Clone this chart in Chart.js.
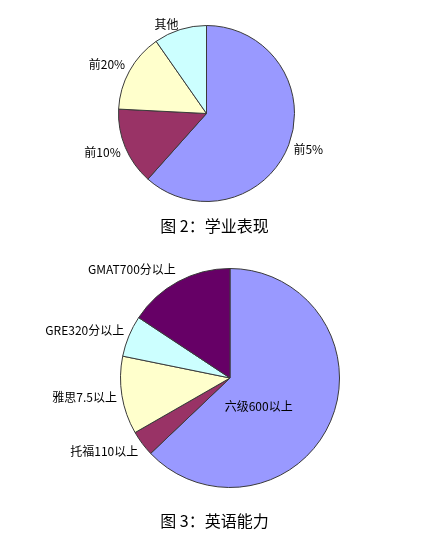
<!DOCTYPE html>
<html>
<head>
<meta charset="utf-8">
<script src="https://cdn.jsdelivr.net/npm/chart.js@4/dist/chart.umd.min.js"></script>
<style>
html,body{margin:0;padding:0;background:#fff;width:437px;height:543px;overflow:hidden;}
.wrap{position:absolute;left:0;}
.cap{position:absolute;left:0;width:429px;text-align:center;font-family:"Noto Sans CJK SC",sans-serif;font-size:16px;color:#000;line-height:20px;}
</style>
</head>
<body>
<div class="wrap" style="top:0"><canvas id="c1" width="437" height="240"></canvas></div>
<div class="wrap" style="top:245px"><canvas id="c2" width="437" height="298"></canvas></div>
<div class="cap" style="top:215px">图 2：学业表现</div>
<div class="cap" style="top:510px">图 3：英语能力</div>
<script>
// Chart 1: 学业表现
const academicLabels = ['前5%', '前10%', '前20%', '其他'];
const academicValues = [61.6, 14.2, 14.5, 9.7];
const academicColors = ['#9999FF', '#993366', '#FFFFCC', '#CCFFFF'];

// Chart 2: 英语能力
const englishLabels = ['六级600以上', '托福110以上', '雅思7.5以上', 'GRE320分以上', 'GMAT700分以上'];
const englishValues = [62.9, 3.8, 11.5, 6.1, 15.7];
const englishColors = ['#9999FF', '#993366', '#FFFFCC', '#CCFFFF', '#660066'];

const FONT = '"Noto Sans CJK SC", sans-serif';

const pieLabels = {
  id: 'pieLabels',
  afterDatasetsDraw(chart, args, opts) {
    const ctx = chart.ctx;
    const meta = chart.getDatasetMeta(0);
    const labels = chart.data.labels;
    const area = chart.chartArea;
    ctx.save();
    ctx.font = '12px ' + FONT;
    ctx.fillStyle = '#000';
    ctx.textBaseline = 'middle';
    meta.data.forEach((arc, i) => {
      const p = arc.getProps(['x', 'y', 'startAngle', 'endAngle', 'outerRadius'], true);
      const mid = (p.startAngle + p.endAngle) / 2;
      if (opts.inside && opts.inside.index === i) {
        const a = opts.inside.angle;
        const rr = p.outerRadius * opts.inside.radius;
        ctx.textAlign = 'center';
        ctx.fillText(labels[i], p.x + rr * Math.cos(a), p.y + rr * Math.sin(a));
        return;
      }
      const r = p.outerRadius + 5;
      let x = p.x + r * Math.cos(mid);
      let y = p.y + r * Math.sin(mid) + 9 * Math.sin(mid);
      y = Math.max(y, area.top - 1);
      ctx.textAlign = Math.cos(mid) < 0 ? 'right' : 'left';
      ctx.fillText(labels[i], x, y);
    });
    ctx.restore();
  }
};

function makePie(id, labels, values, colors, padding, inside) {
  return new Chart(document.getElementById(id), {
    type: 'pie',
    data: {
      labels: labels,
      datasets: [{
        data: values,
        backgroundColor: colors,
        borderColor: '#3a3a3a',
        borderWidth: 1,
        hoverOffset: 0
      }]
    },
    options: {
      responsive: false,
      animation: false,
      devicePixelRatio: 1,
      layout: { padding: padding },
      plugins: {
        legend: { display: false },
        tooltip: { enabled: false },
        pieLabels: { inside: inside }
      }
    },
    plugins: [pieLabels]
  });
}

makePie('c1', academicLabels, academicValues, academicColors,
  { left: 118, right: 142, top: 25, bottom: 38 }, null);
makePie('c2', englishLabels, englishValues, englishColors,
  { left: 120, right: 97, top: 23, bottom: 55 }, { index: 0, angle: Math.PI / 4, radius: 0.37 });
</script>
</body>
</html>
